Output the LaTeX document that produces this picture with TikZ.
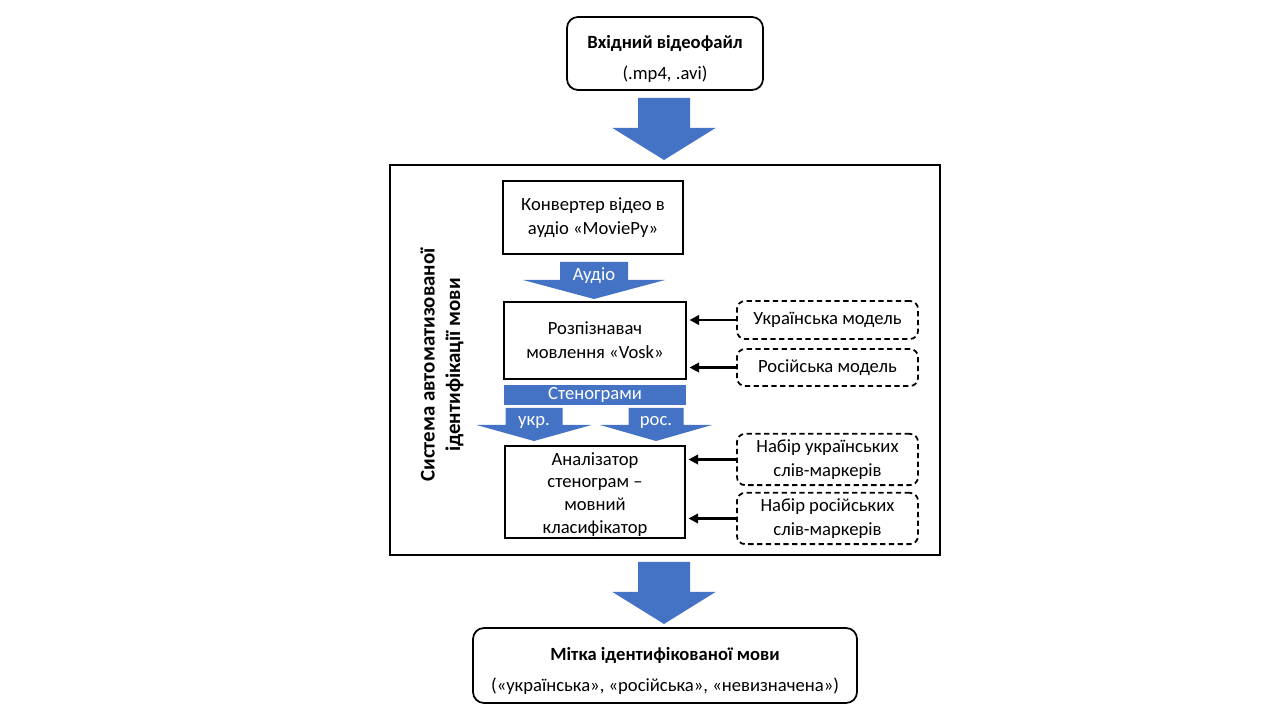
\documentclass[tikz,border=0pt]{standalone}
\usepackage{fontspec}
\setmainfont{Carlito}
\usepackage{xcolor}
\usetikzlibrary{positioning}
\usetikzlibrary{arrows.meta}

\definecolor{arrowblue}{HTML}{4472C4}

% block arrow pointing down: centre x, top y, half shaft, shaft length, half head, head length
\newcommand{\blockarrow}[6]{%
\fill[arrowblue] (#1-#3,#2) -- (#1+#3,#2) -- (#1+#3,#2-#4) -- (#1+#5,#2-#4)
  -- (#1,#2-#4-#6) -- (#1-#5,#2-#4) -- (#1-#3,#2-#4) -- cycle;}

\tikzset{
  titlebox/.style={draw, line width=1pt, rounded corners=0.22cm, align=center},
  stagebox/.style={draw, line width=0.6pt, align=center},
  databox/.style={draw, line width=1pt, dash pattern=on 3pt off 2pt,
    rounded corners=0.16cm, align=center, minimum width=3.62cm},
  feed/.style={-{Triangle[length=5.5pt,width=5.5pt]}, line width=1.2pt, shorten >=0.06cm},
  arrowlabel/.style={text=white, inner sep=0pt},
}

\begin{document}
\begin{tikzpicture}[every node/.style={font=\fontsize{10.6}{13.5}\selectfont}]
\useasboundingbox (0,0) rectangle (25.6,14.4);

% input and output
\node[titlebox, minimum width=3.92cm, minimum height=1.46cm] (video) at (13.3,13.33)
  {\rule{0pt}{14pt}\textbf{Вхідний відеофайл}\\[4pt](.mp4, .avi)};
\blockarrow{13.28}{12.44}{0.52}{0.6}{1.03}{0.64}

\draw[line width=0.6pt] (7.8,11.1) rectangle (18.8,3.3);
\node[rotate=90, align=center, font=\fontsize{11.9}{14.5}\selectfont\bfseries] (system) at (8.84,7.1)
  {Система автоматизованої\\ідентифікації мови};

% pipeline
\node[stagebox, minimum width=3.6cm, minimum height=1.46cm] (convert) at (11.86,10.05)
  {Конвертер відео в\\аудіо «MoviePy»};
\blockarrow{11.88}{9.16}{0.68}{0.36}{1.42}{0.38}
\node[arrowlabel] (audio) at (11.88,8.89) {Аудіо};

\node[stagebox, minimum width=3.64cm, minimum height=1.54cm] (recog) at (11.9,7.59)
  {Розпізнавач\\мовлення «Vosk»};

\node[fill=arrowblue, text=white, minimum width=3.64cm, minimum height=0.4cm, inner sep=0pt] (steno) at (11.9,6.5) {Стенограми};
\blockarrow{10.68}{6.24}{0.57}{0.34}{1.15}{0.32}
\node[arrowlabel] (ukr) at (10.68,5.95) {укр.};
\blockarrow{13.12}{6.24}{0.55}{0.34}{1.12}{0.32}
\node[arrowlabel] (rus) at (13.12,5.95) {рос.};

\node[stagebox, minimum width=3.6cm, minimum height=1.84cm] (analyse) at (11.9,4.56) {};
\node[align=center, inner sep=0pt, font=\fontsize{10.6}{13}\selectfont] (analysetext) at (11.9,4.51)
  {Аналізатор\\стенограм –\\мовний\\класифікатор};

% models and marker words
\node[databox, minimum height=0.76cm] (ukrmodel) at (16.55,8.0) {Українська модель};
\node[databox, minimum height=0.74cm] (rusmodel) at (16.55,7.05) {Російська модель};
\node[databox, minimum height=0.98cm] (ukrwords) at (16.55,5.21) {Набір українських\\слів-маркерів};
\node[databox, minimum height=0.94cm] (ruswords) at (16.55,4.03) {Набір російських\\слів-маркерів};

\draw[feed] (ukrmodel.west) -- (ukrmodel.west -| recog.east);
\draw[feed] (rusmodel.west) -- (rusmodel.west -| recog.east);
\draw[feed] (ukrwords.west) -- (ukrwords.west -| analyse.east);
\draw[feed] (ruswords.west) -- (ruswords.west -| analyse.east);

\blockarrow{13.28}{3.16}{0.52}{0.6}{1.03}{0.64}
\node[titlebox, minimum width=7.68cm, minimum height=1.5cm] (label) at (13.3,1.09)
  {\rule{0pt}{14pt}\textbf{Мітка ідентифікованої мови}\\[4pt](«українська», «російська», «невизначена»)};

\end{tikzpicture}
\end{document}
